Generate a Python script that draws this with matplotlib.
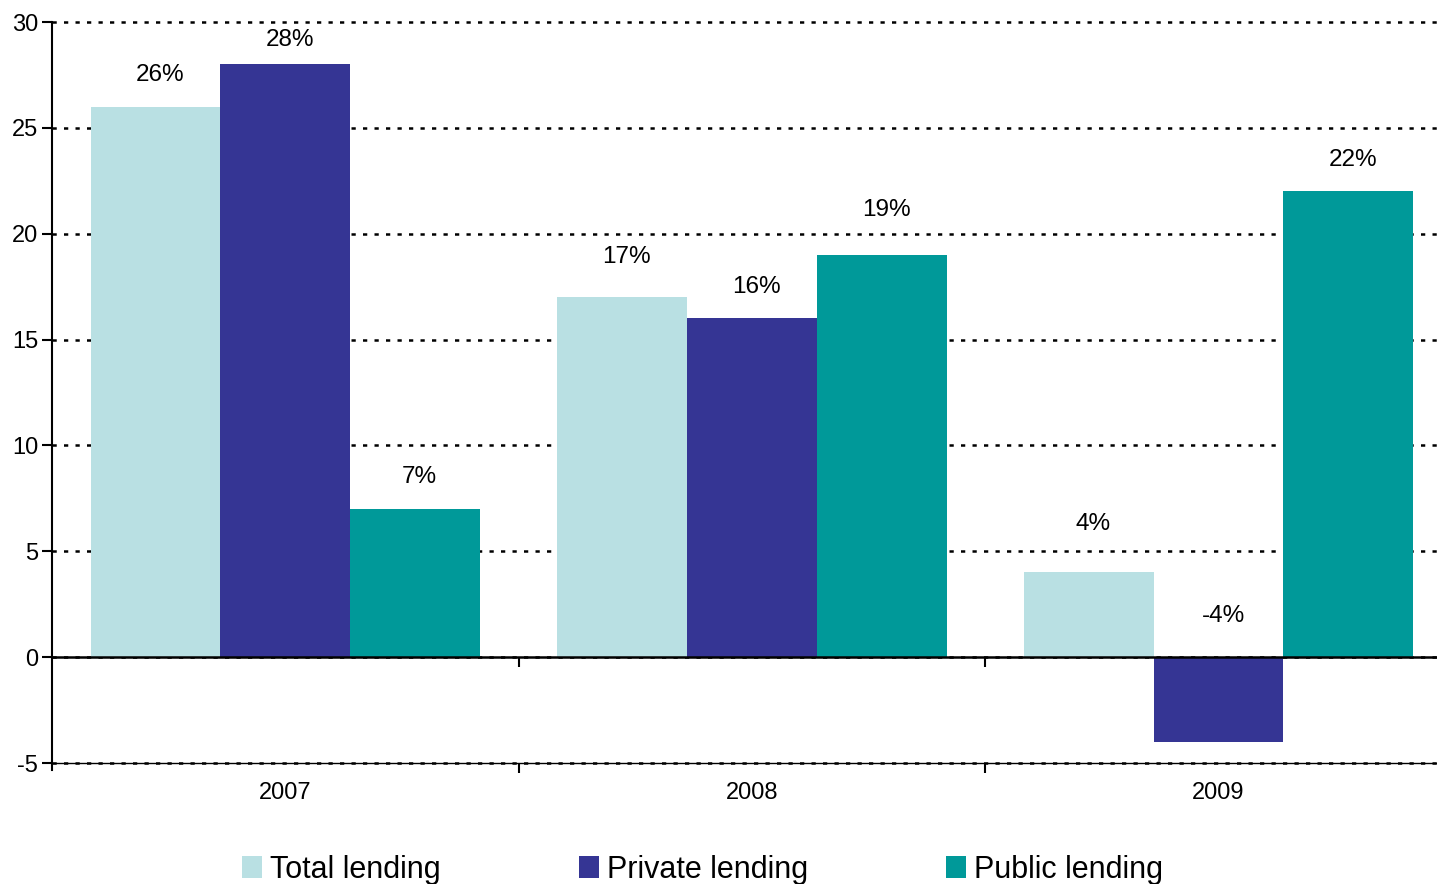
import numpy as np
import matplotlib.pyplot as plt
from matplotlib.patches import Patch

plt.rcParams['font.family'] = ['Liberation Sans', 'DejaVu Sans']
plt.rcParams['axes.unicode_minus'] = False

# Annual growth in lending, per cent
years = ['2007', '2008', '2009']
series = ['Total lending', 'Private lending', 'Public lending']
total_lending = [26, 17, 4]
private_lending = [28, 16, -4]
public_lending = [7, 19, 22]

colors = ['#B9E0E3', '#353594', '#009999']

# vertical gap (data units) between each bar end and its value label
label_gap = [
    [1.5, 1.9, 2.3],
    [1.15, 1.5, 1.95],
    [1.5, 2.1, 1.5],
]


def draw_chart():
    fig = plt.figure(figsize=(14.37, 8.84), dpi=100)
    ax = fig.add_axes([52 / 1437, 1 - 763 / 884, 1 - 52 / 1437, (763 - 22) / 884])

    x = np.arange(len(years))
    width = 0.278
    values = [total_lending, private_lending, public_lending]

    for i, (name, vals) in enumerate(zip(series, values)):
        pos = x + (i - 1) * width
        ax.bar(pos, vals, width=width, color=colors[i], label=name, zorder=2)
        for px, v, gap in zip(pos, vals, label_gap[i]):
            ypos = v + gap if v >= 0 else gap
            ax.text(px + 0.01, ypos, f'{v}%', ha='center', va='center', fontsize=17.5, zorder=4)

    ax.set_xlim(-0.5, 2.468)
    ax.set_ylim(-5, 30)
    ax.set_yticks(np.arange(-5, 31, 5))
    ax.set_xticks(x)
    ax.set_xticklabels(years)
    ax.set_xticks([0.5, 1.5], minor=True)

    ax.tick_params(axis='y', length=7, width=1.5, pad=3, labelsize=17)
    ax.tick_params(axis='x', which='major', length=0, pad=14, labelsize=17)
    ax.tick_params(axis='x', which='minor', length=7, width=1.5)

    # dotted horizontal guides behind the bars
    ax.set_axisbelow(True)
    ax.yaxis.grid(True, color='black', linewidth=1.8, linestyle=(0, (1.7, 2.9)))
    for gl in ax.get_ygridlines():
        gl.set_clip_on(False)

    # zero line with its own small category separators
    ax.axhline(0, color='black', linewidth=1.8, zorder=3)
    ax.vlines([0.5, 1.5], -0.45, 0, color='black', linewidth=1.5, zorder=3)

    for side in ['top', 'right']:
        ax.spines[side].set_visible(False)
    ax.spines['left'].set_linewidth(1.5)
    ax.spines['left'].set_bounds(-5.35, 30)
    ax.spines['bottom'].set_linewidth(1.0)

    handles = [Patch(facecolor=c, edgecolor='none') for c in colors]
    fig.legend(handles, series, loc='upper left', bbox_to_anchor=(242 / 1437, 1 - 855 / 884),
               ncol=3, frameon=False, fontsize=22, borderpad=0, borderaxespad=0,
               handlelength=0.66, handleheight=0.72, handletextpad=0.27,
               columnspacing=4.5)

    fig.savefig('out.png', dpi=100)


if __name__ == '__main__':
    draw_chart()
